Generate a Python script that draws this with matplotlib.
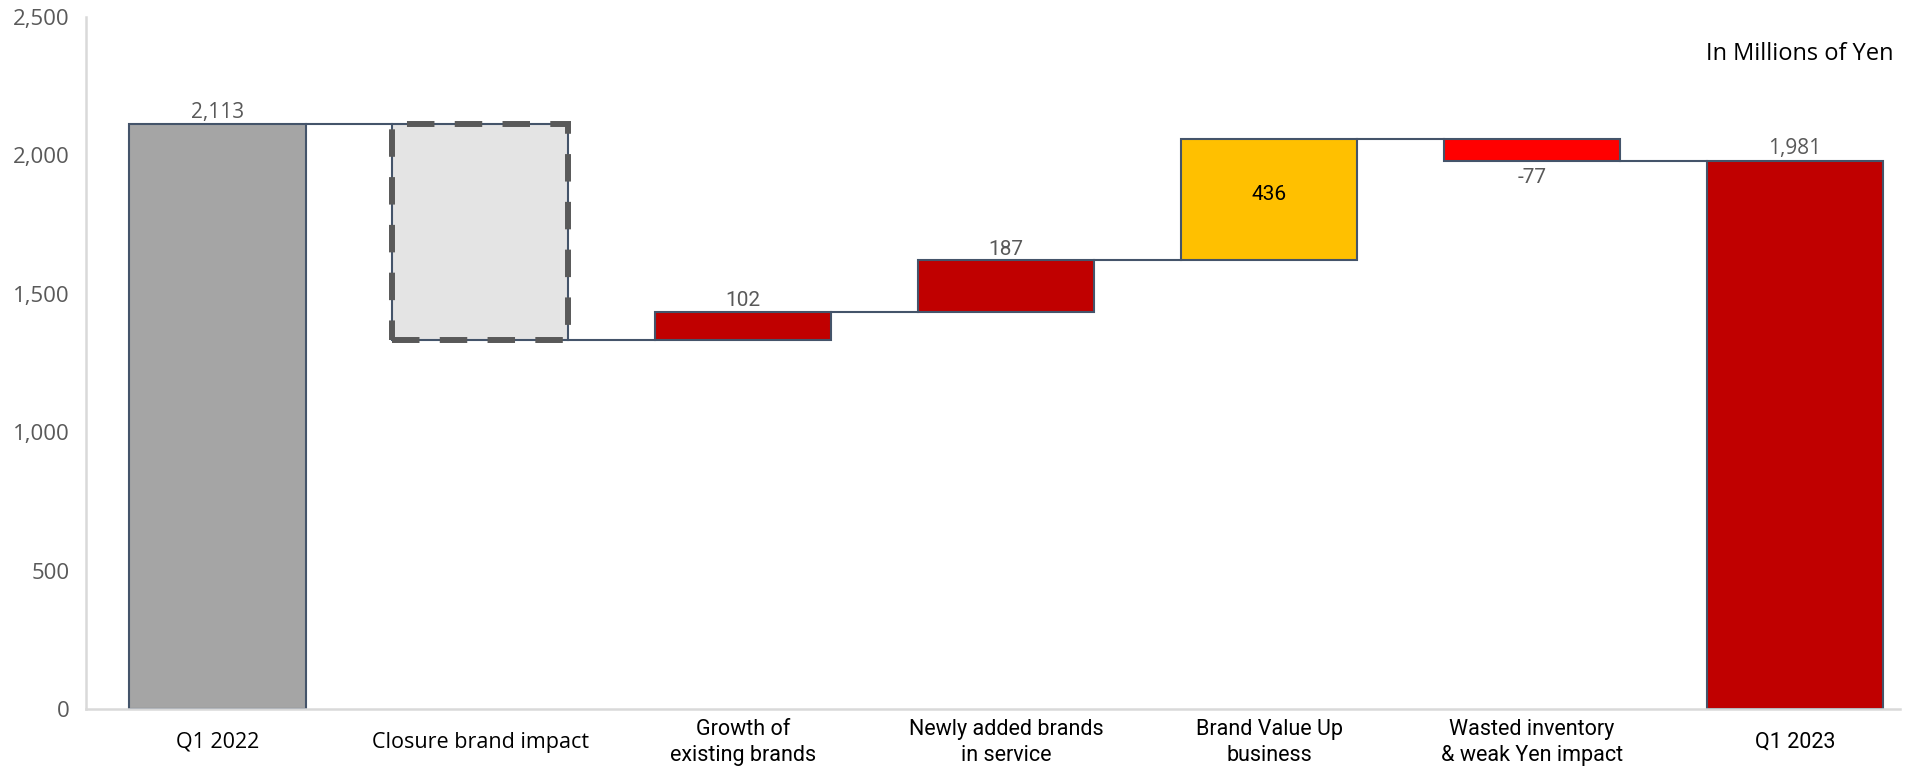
import matplotlib
matplotlib.use("Agg")
import matplotlib.pyplot as plt
from matplotlib.patches import Rectangle
import matplotlib.transforms as mtransforms
import numpy as np

# =============================================================================
# DATA
# =============================================================================
categories = ["Q1 2022", "Closure brand impact", "Growth of\nexisting brands",
              "Newly added brands\nin service", "Brand Value Up\nbusiness",
              "Wasted inventory\n& weak Yen impact", "Q1 2023"]
start_total = 2113
changes     = [-780, 102, 187, 436, -77]
end_total   = 1981
labels      = ["2,113", "", "102", "187", "436", "-77", "1,981"]
colors      = ["#A5A5A5", "#E4E4E4", "#C00000", "#C00000", "#FFC000", "#FF0000", "#C00000"]

# bar bottoms / heights
bottoms = [0]
heights = [start_total]
level = start_total
for c in changes:
    new = level + c
    bottoms.append(min(level, new))
    heights.append(abs(c))
    level = new
bottoms.append(0)
heights.append(end_total)

EDGE = "#44546A"
GREY_TXT = "#595959"
LABEL_FONT = ["Roboto", "DejaVu Sans"]
NUM_FONT = ["Open Sans", "DejaVu Sans"]

fig = plt.figure(figsize=(19.24, 7.71), dpi=100)
ax = fig.add_axes([0.0447, 0.0804, 0.9428, 0.8976])

x = np.arange(len(categories))
w = 0.67
bars = ax.bar(x, heights, bottom=bottoms, width=w, color=colors,
              edgecolor=EDGE, linewidth=1.5, zorder=2)

# dashed frame on the closure bar
cb = bars[1]
ax.add_patch(Rectangle((cb.get_x(), cb.get_y()), cb.get_width(), cb.get_height(),
                       fill=False, edgecolor="#595959", linewidth=4.3,
                       linestyle=(0, (4.6, 3.4)), zorder=3))

# connectors
levels = [start_total]
lv = start_total
for c in changes:
    lv += c
    levels.append(lv)
levels.append(end_total)
tops = [b + h for b, h in zip(bottoms, heights)]
for i in range(len(categories) - 1):
    y = levels[i]
    ax.plot([x[i] + w / 2, x[i + 1] - w / 2], [y, y], color=EDGE, lw=1.5, zorder=1)

# data labels
for i, lab in enumerate(labels):
    if not lab:
        continue
    if i == 4:
        ax.text(x[i], bottoms[i] + heights[i] * 0.54, lab, ha="center", va="center",
                fontsize=15, color="black", family=LABEL_FONT, zorder=4)
    elif i == 5:
        ax.annotate(lab, (x[i], bottoms[i]), xytext=(0, -5), textcoords="offset points",
                    ha="center", va="top", fontsize=15, color=GREY_TXT,
                    family=LABEL_FONT)
    else:
        ax.annotate(lab, (x[i], tops[i]), xytext=(0, 1), textcoords="offset points",
                    ha="center", va="bottom", fontsize=15, color=GREY_TXT,
                    family=NUM_FONT if i in (0, 6) else LABEL_FONT)

# axes styling
ax.set_xlim(-0.5, 6.4)
ax.set_ylim(0, 2500)
yt = [0, 500, 1000, 1500, 2000, 2500]
ax.set_yticks(yt)
ax.set_yticklabels([f"{v:,}" for v in yt], fontsize=16, color=GREY_TXT, family=NUM_FONT)
ax.tick_params(axis="y", length=0, pad=12)
ax.set_xticks([])
for s in ["top", "right"]:
    ax.spines[s].set_visible(False)
for s in ["left", "bottom"]:
    ax.spines[s].set_color("#D9D9D9")
    ax.spines[s].set_linewidth(1.8)

# category labels, vertically centred
trans = mtransforms.blended_transform_factory(ax.transData, ax.transAxes)
for i, cat in enumerate(categories):
    ax.text(x[i], -0.048, cat, transform=trans, ha="center", va="center",
            fontsize=15.5, color="black",
            family=NUM_FONT if i in (0, 1) else LABEL_FONT, linespacing=1.3)

fig.text(0.984, 0.93, "In Millions of Yen", ha="right", va="center",
         fontsize=17, color="black", family=NUM_FONT)

fig.savefig("out.png", dpi=100)
